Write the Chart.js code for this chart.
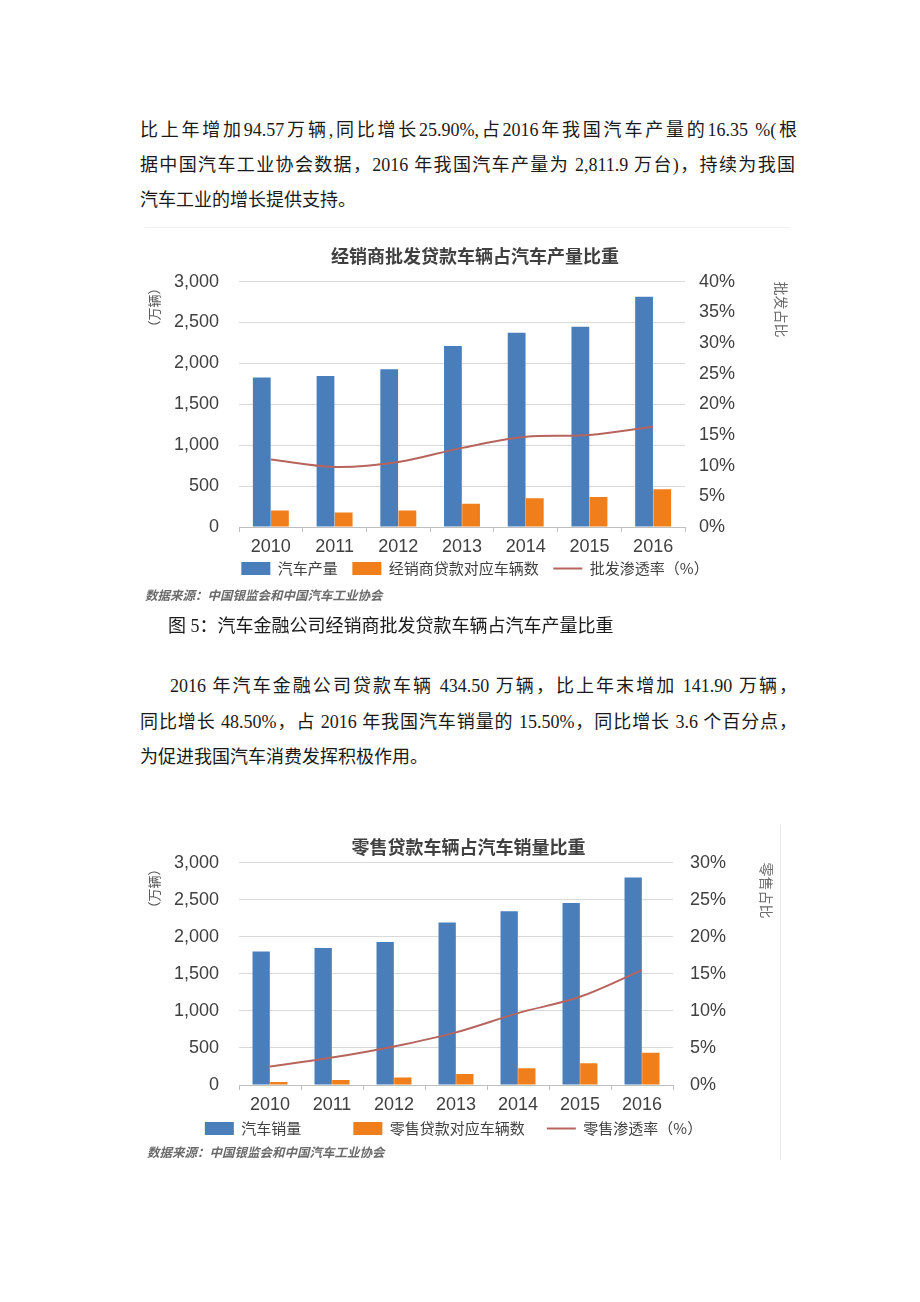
<!DOCTYPE html>
<html>
<head>
<meta charset="utf-8">
<script src="https://cdn.jsdelivr.net/npm/chart.js@4"></script>
<style>
  body { margin: 0; background: #fff; }
  #page { position: relative; width: 920px; height: 1302px; overflow: hidden; background: #fff; }
  .t { position: absolute; font-family: "Liberation Serif", "Noto Sans CJK SC", serif; font-size: 18px;
       line-height: 24px; color: #1a1a1a; font-weight: 400; white-space: normal; }
  .j { text-align: justify; text-align-last: justify; }
  .src { position: absolute; font-family: "Noto Sans CJK SC", sans-serif; font-size: 12.5px; font-style: italic;
         font-weight: bold; color: #6b6b6b; line-height: 16px; white-space: nowrap; }
  canvas { position: absolute; }
</style>
</head>
<body>
<div id="page">
  <div class="t j" style="left:140px; top:118px; width:657px;">比上年增加94.57万辆,同比增长25.90%,占2016年我国汽车产量的16.35 %(根</div>
  <div class="t j" style="left:140px; top:153px; width:655px;">据中国汽车工业协会数据，2016 年我国汽车产量为 2,811.9 万台)，持续为我国</div>
  <div class="t" style="left:140px; top:188px;">汽车工业的增长提供支持。</div>

  <div style="position:absolute; left:145px; top:227px; width:645px; height:1px; background:#f0f0f0;"></div>
  <canvas id="chart1" width="670" height="354" style="left:140px; top:232px;"></canvas>
  <div class="src" style="left:145px; top:587px;">数据来源：中国银监会和中国汽车工业协会</div>

  <div class="t" style="left:168px; top:614px;">图 5：汽车金融公司经销商批发贷款车辆占汽车产量比重</div>

  <div class="t j" style="left:170px; top:674px; width:627px;">2016 年汽车金融公司贷款车辆 434.50 万辆，比上年末增加 141.90 万辆，</div>
  <div class="t j" style="left:140px; top:710px; width:657px;">同比增长 48.50%，占 2016 年我国汽车销量的 15.50%，同比增长 3.6 个百分点，</div>
  <div class="t" style="left:140px; top:745px;">为促进我国汽车消费发挥积极作用。</div>

  <div style="position:absolute; left:780px; top:825px; width:1px; height:335px; background:#e6e6e6;"></div>
  <canvas id="chart2" width="657" height="320" style="left:140px; top:826px;"></canvas>
  <div class="src" style="left:147px; top:1144px;">数据来源：中国银监会和中国汽车工业协会</div>
</div>

<script>
const years = ["2010", "2011", "2012", "2013", "2014", "2015", "2016"];

// 图一：经销商批发贷款
const production = [1829, 1845, 1927, 2213, 2375, 2449, 2816];
const dealerLoanCars = [202, 178, 203, 285, 350, 368, 460];
const wholesaleRate = [11.0, 9.8, 10.6, 12.9, 14.7, 15.0, 16.35];

// 图二：零售贷款
const sales = [1800, 1848, 1928, 2192, 2345, 2455, 2800];
const retailLoanCars = [40, 68, 100, 150, 227, 293, 435];
const retailRate = [2.5, 3.7, 5.2, 7.1, 9.7, 11.9, 15.5];

const leftTicks = [0, 500, 1000, 1500, 2000, 2500, 3000];

const BLUE = "#4a7ebb";
const ORANGE = "#f07f1b";
const RED = "#b8645e";
const TEXT = "#404040";
const cjk = "'Noto Sans CJK SC', sans-serif";
const latin = "'Liberation Sans', Arial, sans-serif";

function makeChart(id, opts) {
    const ctx = document.getElementById(id);
    const data = {
        labels: years,
        datasets: [
            {
                type: "bar",
                label: opts.barLabel,
                data: opts.bars,
                backgroundColor: BLUE,
                borderWidth: 0,
                pointStyle: "rect",
                yAxisID: "y",
                order: 1,
            },
            {
                type: "bar",
                label: opts.loanLabel,
                data: opts.loans,
                backgroundColor: ORANGE,
                borderWidth: 0,
                pointStyle: "rect",
                yAxisID: "y",
                order: 1,
            },
            {
                type: "line",
                label: opts.lineLabel,
                data: opts.rate,
                borderColor: RED,
                backgroundColor: RED,
                borderWidth: 2,
                pointRadius: 0,
                tension: 0.35,
                fill: false,
                pointStyle: "line",
                yAxisID: "y1",
                order: 0,
            },
        ],
    };

    const config = {
        type: "bar",
        data,
        options: {
            responsive: false,
            animation: false,
            datasets: { bar: { categoryPercentage: 0.57, barPercentage: 0.98 } },
            layout: { padding: 0 },
            plugins: {
                tooltip: { enabled: false },
                title: {
                    display: true,
                    text: opts.title,
                    color: TEXT,
                    font: { family: cjk, size: 18, weight: "bold" },
                    padding: opts.titlePad,
                },
                legend: {
                    position: "bottom",
                    labels: {
                        usePointStyle: true,
                        pointStyleWidth: 29,
                        boxHeight: 13,
                        padding: 7,
                        color: TEXT,
                        font: { family: cjk, size: 15 },
                        sort: (a, b) => a.datasetIndex - b.datasetIndex,
                        // Excel 图例的列距比较宽，用空格补
                        generateLabels: (chart) => {
                            const items = Chart.defaults.plugins.legend.labels.generateLabels(chart);
                            items.forEach((it) => { it.text += opts.legendGaps[it.datasetIndex]; });
                            return items;
                        },
                    },
                },
            },
            scales: {
                x: {
                    offset: true,
                    grid: { drawOnChartArea: false, drawTicks: true, tickLength: 5, color: "#bfbfbf", offset: true },
                    border: { display: true, color: "#bfbfbf" },
                    ticks: { color: TEXT, padding: 4, font: { family: latin, size: 18 } },
                    afterFit: (s) => { s.height = opts.xHeight; },
                },
                y: {
                    position: "left",
                    min: 0,
                    max: 3000,
                    afterBuildTicks: (s) => { s.ticks = leftTicks.map((v) => ({ value: v })); },
                    grid: { color: "#d9d9d9", drawTicks: false },
                    border: { display: false },
                    ticks: {
                        color: TEXT,
                        padding: 20,
                        font: { family: latin, size: 18 },
                        callback: (v) => v.toLocaleString("en-US"),
                    },
                    title: {
                        display: true,
                        text: "（万辆）",
                        align: "end",
                        color: "#595959",
                        font: { family: cjk, size: 13 },
                        padding: { top: 6, bottom: 0 },
                    },
                    afterFit: (s) => { s.width = 99; },
                },
                y1: {
                    position: "right",
                    min: 0,
                    max: opts.rateMax,
                    grid: { drawOnChartArea: false, drawTicks: false },
                    border: { display: false },
                    ticks: {
                        stepSize: 5,
                        color: TEXT,
                        padding: opts.rightPad,
                        font: { family: latin, size: 18 },
                        callback: (v) => v + "%",
                    },
                    title: {
                        display: true,
                        text: opts.rightTitle,
                        align: "end",
                        color: "#6a6a6a",
                        font: { family: "'Liberation Serif', 'Noto Sans CJK SC', serif", size: 14 },
                        padding: { top: opts.rightTitlePad, bottom: 0 },
                    },
                    afterFit: (s) => { s.width = opts.rightWidth; },
                },
            },
        },
    };

    new Chart(ctx, config);
}

makeChart("chart1", {
    title: "经销商批发贷款车辆占汽车产量比重",
    barLabel: "汽车产量",
    loanLabel: "经销商贷款对应车辆数",
    lineLabel: "批发渗透率（%）",
    rightTitle: "批发占比",
    bars: production,
    loans: dealerLoanCars,
    rate: wholesaleRate,
    rateMax: 40,
    titlePad: { top: 13, bottom: 15 },
    xHeight: 27,
    rightWidth: 125,
    rightPad: 14,
    rightTitlePad: 21.6,
    legendGaps: ["\u2002", "\u2002", ""],
});

makeChart("chart2", {
    title: "零售贷款车辆占汽车销量比重",
    barLabel: "汽车销量",
    loanLabel: "零售贷款对应车辆数",
    lineLabel: "零售渗透率（%）",
    rightTitle: "零售占比",
    bars: sales,
    loans: retailLoanCars,
    rate: retailRate,
    rateMax: 30,
    titlePad: { top: 10, bottom: 5 },
    xHeight: 29,
    rightWidth: 124,
    rightPad: 17,
    rightTitlePad: 23.6,
    legendGaps: ["\u3000\u3000\u3000", "\u3000", "\u3000\u3000\u2002"],
});
</script>
</body>
</html>
